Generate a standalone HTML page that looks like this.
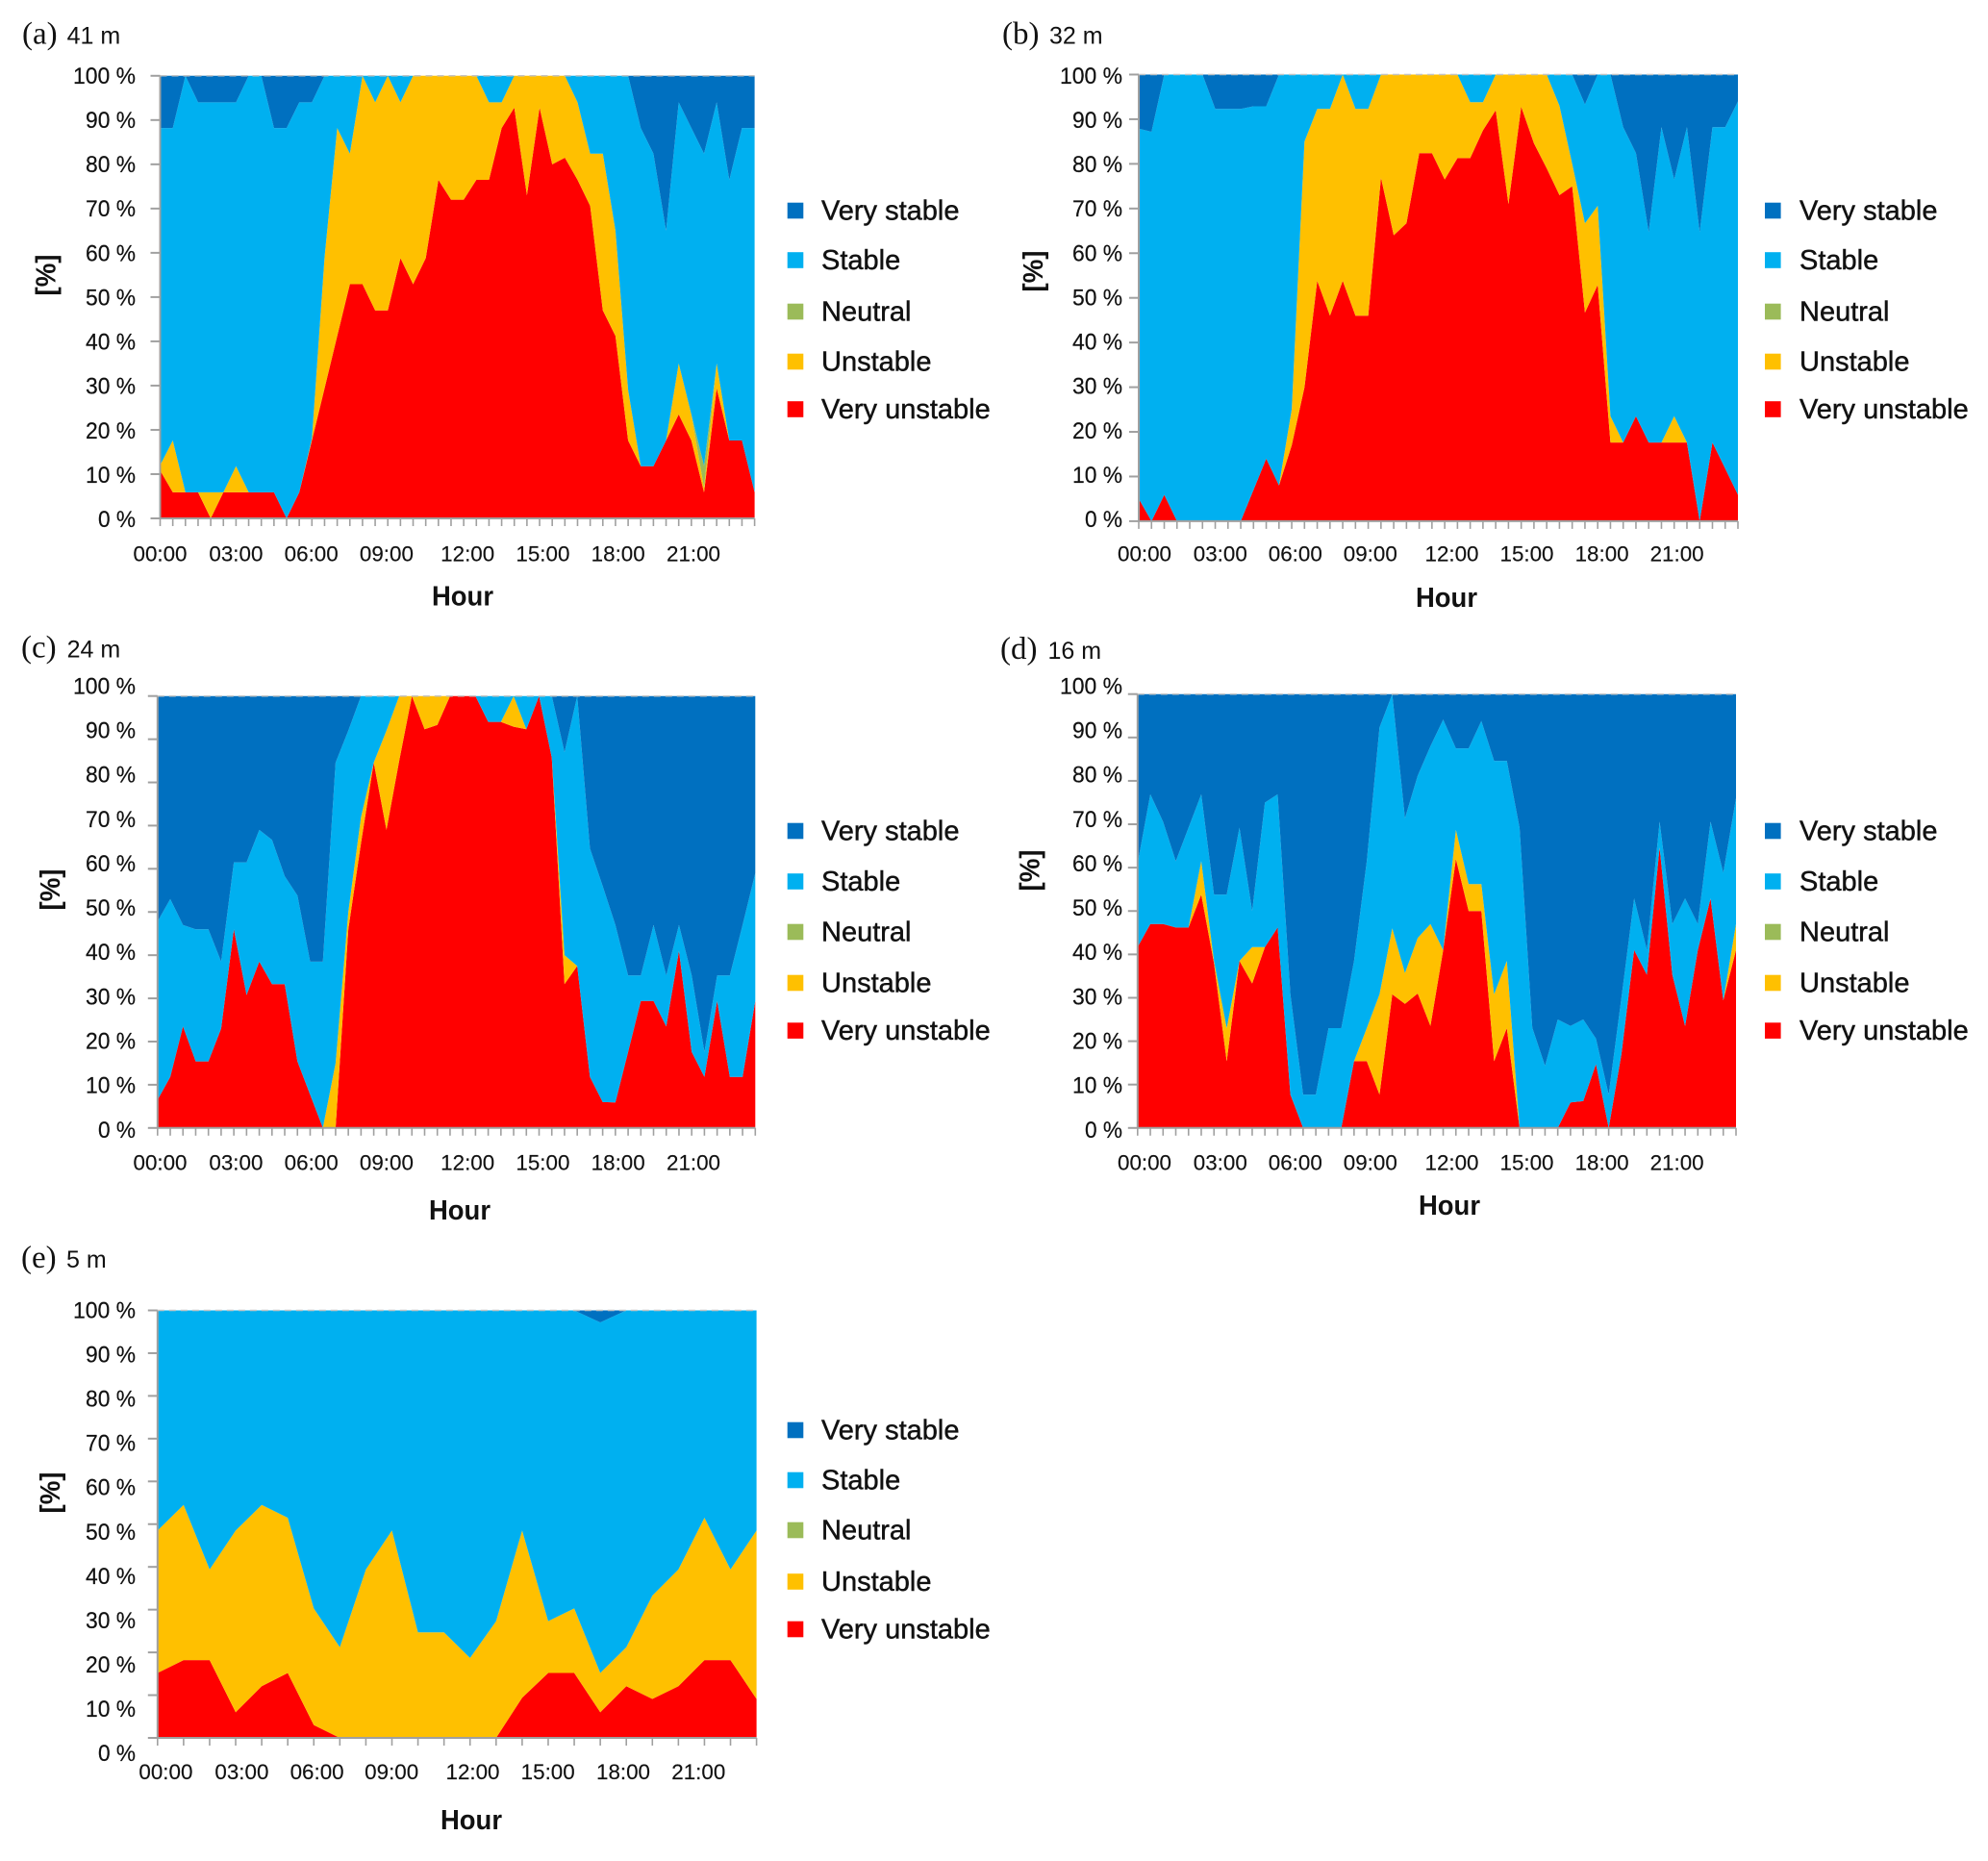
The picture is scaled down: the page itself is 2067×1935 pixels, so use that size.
<!DOCTYPE html>
<html lang="en">
<head>
<meta charset="utf-8">
<title>Atmospheric stability classes by hour at five heights</title>
<style>
html,body{margin:0;padding:0;background:#fff;}
svg{display:block;}
text{font-family:"Liberation Sans",sans-serif;fill:#111;}
.ytick{font-size:24px;text-anchor:end;stroke:#111;stroke-width:.2px;}
.xtick{font-size:22px;text-anchor:middle;stroke:#111;stroke-width:.15px;}
.axis-title{font-size:29px;font-weight:bold;text-anchor:middle;}
.legend-text{font-size:29px;stroke:#111;stroke-width:.45px;}
.panel-letter{font-family:"Liberation Serif",serif;font-size:33px;}
.panel-height{font-size:25px;}
</style>
</head>
<body>
<svg id="figure" xmlns="http://www.w3.org/2000/svg" width="2067" height="1935" viewBox="0 0 2067 1935"></svg>
<script>
/* ---------- shared labels ---------- */
const seriesNames = ['Very unstable', 'Unstable', 'Neutral', 'Stable', 'Very stable'];
const legendOrder = ['Very stable', 'Stable', 'Neutral', 'Unstable', 'Very unstable'];
const yTickLabels = ['0 %', '10 %', '20 %', '30 %', '40 %', '50 %', '60 %', '70 %', '80 %', '90 %', '100 %'];
const xTickLabels = ['00:00', '03:00', '06:00', '09:00', '12:00', '15:00', '18:00', '21:00'];

/* ---------- panel (a) 41 m: percent per half hour ---------- */
const a_veryUnstable = [10.8,5.9,5.9,5.9,0,5.9,5.9,5.9,5.9,5.9,0,5.9,17.6,29.4,41.2,52.9,52.9,47,47,58.8,52.9,58.8,76.5,72,72,76.5,76.5,88.2,92.8,73,92.8,80,81.5,76.5,70.6,47,41.2,17.6,11.8,11.8,17.6,23.5,17.6,5.9,29.4,17.6,17.6,5.9];
const a_unstable = [1.2,11.7,0,0,5.9,0,5.9,0,0,0,0,0,0.4,29.6,47,29.5,47.1,47,53,35.2,47.1,41.2,23.5,28,28,23.5,17.5,5.8,7.2,27,7.2,20,18.5,17.5,11.8,35.4,23.8,11.4,0,0,0,11.5,5.9,1,5.6,0,0,0];
const a_neutral = [0,0,0,0,0,0,0,0,0,0,0,0,0,0,0,0,0,0,0,0,0,0,0,0,0,0,0,0,0,0,0,0,0,0,0,0,0,0,0,0,0,0,0,5,0,0,0,0];
const a_stable = [76.2,70.6,94.1,88.1,88.1,88.1,82.2,94.1,94.1,82.3,88.2,88.1,76,41,11.8,17.6,0,6,0,6,0,0,0,0,0,0,6,6,0,0,0,0,0,6,17.6,17.6,35,71,76.4,70.6,47.4,59,64.7,70.5,59,58.9,70.6,82.3];
const a_veryStable = [11.8,11.8,0,6,6,6,6,0,0,11.8,11.8,6,6,0,0,0,0,0,0,0,0,0,0,0,0,0,0,0,0,0,0,0,0,0,0,0,0,0,11.8,17.6,35,6,11.8,17.6,6,23.5,11.8,11.8];

/* ---------- panel (b) 32 m ---------- */
const b_veryUnstable = [5,0,5.9,0,0,0,0,0,0,7,14,8,17,30,53.8,46,53.8,46,46,76.9,64,66.7,82.4,82.4,76.5,81.3,81.3,87.5,92,71,92.8,84.6,79,73,75,46.7,52.9,17.6,17.6,23.5,17.6,17.6,17.6,17.6,0,17.6,11.8,5.9];
const b_unstable = [0,0,0,0,0,0,0,0,0,0,0,0,8,55,38.5,46.3,46.2,46.3,46.3,23.1,36,33.3,17.6,17.6,23.5,18.7,12.5,6.3,8,29,7.2,15.4,21,20,5,20,17.7,5.9,0,0,0,0,5.9,0,0,0,0,0];
const b_neutral = [0,0,0,0,0,0,0,0,0,0,0,0,0,0,0,0,0,0,0,0,0,0,0,0,0,0,0,0,0,0,0,0,0,0,0,0,0,0,0,0,0,0,0,0,0,0,0,0];
const b_stable = [82.9,87.2,94.1,100,100,100,92.3,92.3,92.3,85.9,78.9,92,75,15,7.7,7.7,0,7.7,7.7,0,0,0,0,0,0,0,6.2,6.2,0,0,0,0,0,7,20,26.6,29.4,76.5,70.6,58.9,47.1,70.6,53,70.6,64.7,70.6,76.4,88.1];
const b_veryStable = [12.1,12.8,0,0,0,0,7.7,7.7,7.7,7.1,7.1,0,0,0,0,0,0,0,0,0,0,0,0,0,0,0,0,0,0,0,0,0,0,0,0,6.7,0,0,11.8,17.6,35.3,11.8,23.5,11.8,35.3,11.8,11.8,6];

/* ---------- panel (c) 24 m ---------- */
const c_veryUnstable = [6.5,11.8,23.5,15.4,15.4,23,46,30.8,38.5,33.3,33.3,15.4,7.7,0,0,46,66,84.6,69,85,100,92.3,93.3,100,100,100,94,94,92.9,92.3,100,85.7,33.3,37.5,11.8,6,5.9,17.6,29.4,29.4,23.5,41,17.6,11.8,29.4,11.8,11.8,29.4];
const c_unstable = [0,0,0,0,0,0,0,0,0,0,0,0,0,0,15,4,6,0,23,15,0,7.7,6.7,0,0,0,0,0,7.1,0,0,0,6.7,0,0,0,0,0,0,0,0,0,0,0,0,0,0,0];
const c_neutral = [0,0,0,0,0,0,0,0,0,0,0,0,0,0,0,0,0,0,0,0,0,0,0,0,0,0,0,0,0,0,0,0,0,0,0,0,0,0,0,0,0,0,0,0,0,0,0,0];
const c_stable = [41.3,41.2,23.5,30.6,30.6,15.5,15.5,30.7,30.5,33.4,25,38.4,30.8,38.5,69.6,42,28,15.4,8,0,0,0,0,0,0,0,6,6,0,7.7,0,14.3,47,62.5,52.9,50,41.1,17.7,5.9,17.6,11.8,6,17.7,5.8,5.9,23.5,35.2,29.6];
const c_veryStable = [52.2,47,53,54,54,61.5,38.5,38.5,31,33.3,41.7,46.2,61.5,61.5,15.4,8,0,0,0,0,0,0,0,0,0,0,0,0,0,0,0,0,13,0,35.3,44,53,64.7,64.7,53,64.7,53,64.7,82.4,64.7,64.7,53,41];

/* ---------- panel (d) 16 m ---------- */
const d_veryUnstable = [41.7,47,47,46.2,46.2,53.8,38,15.4,38.5,33.3,41.7,46.2,7.7,0,0,0,0,15.4,15.4,7.7,30.8,28.6,31,23.5,41,62,50,50,15.4,23,0,0,0,0,5.9,6.2,14.7,0,17,41,35.3,64.7,35.3,23.5,41,52.9,29.4,41];
const d_unstable = [0,0,0,0,0,7.7,0.5,7.6,0,8.4,0,0,0,0,0,0,0,0,7.6,23.1,15.2,7.1,12.8,23.5,0,6.7,6.2,6.2,15.4,15.5,0,0,0,0,0,0,0,0,0,0,0,0,0,0,0,0,0,6];
const d_neutral = [0,0,0,0,0,0,0,0,0,0,0,0,0,0,0,0,0,0,0,0,0,0,0,0,0,0,0,0,0,0,0,0,0,0,0,0,0,0,0,0,0,0,0,0,0,0,0,0];
const d_stable = [19.3,29.9,23.6,15.3,23,15.4,15.3,30.8,30.7,8.3,33.3,30.7,23.1,7.7,7.7,23,23,23.1,38.5,61.5,54,35.7,37.4,41,53.1,18.8,31.3,37.6,53.8,46.1,69.2,23.1,14.3,25,17.6,18.8,5.9,7.7,13,11.9,5.7,5.9,11.7,29.4,6,17.7,29.4,29];
const d_veryStable = [39,23.1,29.4,38.5,30.8,23.1,46.2,46.2,30.8,50,25,23.1,69.2,92.3,92.3,77,77,61.5,38.5,7.7,0,28.6,18.8,12,5.9,12.5,12.5,6.2,15.4,15.4,30.8,76.9,85.7,75,76.5,75,79.4,92.3,70,47.1,59,29.4,53,47.1,53,29.4,41.2,24];

/* ---------- panel (e) 5 m: percent per hour ---------- */
const e_veryUnstable = [15.2,18.2,18.2,6,12.1,15.2,3,0,0,0,0,0,0,0,9.4,15.2,15.2,6,12.1,9.1,12.1,18.2,18.2,9.1];
const e_unstable = [33.3,36.3,21.2,42.5,42.4,36.3,27.3,21.2,39.4,48.5,24.7,24.7,18.7,27.3,39.1,12.1,15.1,9.2,9.1,24.2,27.3,33.3,21.2,39.4];
const e_neutral = [0,0,0,0,0,0,0,0,0,0,0,0,0,0,0,0,0,0,0,0,0,0,0,0];
const e_stable = [51.5,45.5,60.6,51.5,45.5,48.5,69.7,78.8,60.6,51.5,75.3,75.3,81.3,72.7,51.5,72.7,69.7,82,78.8,66.7,60.6,48.5,60.6,51.5];
const e_veryStable = [0,0,0,0,0,0,0,0,0,0,0,0,0,0,0,0,0,2.8,0,0,0,0,0,0];

/* ---------- styling and layout (not data) ---------- */
const colors = {'Very unstable':'#FF0000','Unstable':'#FFC000','Neutral':'#9BBB59','Stable':'#00B0F0','Very stable':'#0070C0'};
const xLabelsLeft = [166.5,245.4,323.7,401.9,486.2,564.4,642.7,721];
const xLabelsRight = [1190,1268.8,1346.8,1424.8,1509.5,1587.5,1665.6,1743.6];
const xLabelsE = [172.4,251.4,329.6,407.2,491.5,569.7,648,726.3];
const legendRowsTop = [219,270.5,324,376,425.5];
const legendRowsMid = [864,916.5,969,1022,1071.6];
const legendRowsBottom = [1487,1539,1591,1644.5,1694];
const panels = [
 {id:'a',letter:'(a)',height:'41 m',series:[a_veryUnstable,a_unstable,a_neutral,a_stable,a_veryStable],
  left:166.5,right:784.6,top:78.8,bottom:539,
  yLabelRight:141,yLabelTop:78.8,yLabelBottom:540,xLabels:xLabelsLeft,xLabelY:576,
  hourX:481,hourY:620.6,pctX:48.4,pctY:286,legendSwatchX:818.7,legendTextX:854,legendRows:legendRowsTop,
  letterX:23,heightX:69.6,titleY:45.6},
 {id:'b',letter:'(b)',height:'32 m',series:[b_veryUnstable,b_unstable,b_neutral,b_stable,b_veryStable],
  left:1184,right:1807,top:77.5,bottom:541.9,
  yLabelRight:1167,yLabelTop:78.8,yLabelBottom:540,xLabels:xLabelsRight,xLabelY:576,
  hourX:1504,hourY:622,pctX:1075,pctY:282,legendSwatchX:1835,legendTextX:1871,legendRows:legendRowsTop,
  letterX:1042,heightX:1091,titleY:45.6},
 {id:'c',letter:'(c)',height:'24 m',series:[c_veryUnstable,c_unstable,c_neutral,c_stable,c_veryStable],
  left:163.8,right:785.3,top:723.7,bottom:1172.8,
  yLabelRight:141,yLabelTop:713.4,yLabelBottom:1174.8,xLabels:xLabelsLeft,xLabelY:1209,
  hourX:478,hourY:1259,pctX:53,pctY:925,legendSwatchX:818.7,legendTextX:854,legendRows:legendRowsMid,
  letterX:22,heightX:69.6,titleY:683.5},
 {id:'d',letter:'(d)',height:'16 m',series:[d_veryUnstable,d_unstable,d_neutral,d_stable,d_veryStable],
  left:1182.8,right:1805,top:721.7,bottom:1172.8,
  yLabelRight:1167,yLabelTop:713.4,yLabelBottom:1174.8,xLabels:xLabelsRight,xLabelY:1209,
  hourX:1507,hourY:1254,pctX:1071.7,pctY:905,legendSwatchX:1835,legendTextX:1871,legendRows:legendRowsMid,
  letterX:1040,heightX:1089.5,titleY:685},
 {id:'e',letter:'(e)',height:'5 m',series:[e_veryUnstable,e_unstable,e_neutral,e_stable,e_veryStable],
  left:163.8,right:786.6,top:1362.5,bottom:1807,
  yLabelRight:141,yLabelTop:1362.5,yLabelBottom:1823,xLabels:xLabelsE,xLabelY:1842.6,
  hourX:490,hourY:1893,pctX:53,pctY:1552,legendSwatchX:818.7,legendTextX:854,legendRows:legendRowsBottom,
  letterX:22,heightX:69,titleY:1318}
];

const NS = 'http://www.w3.org/2000/svg';
const root = document.getElementById('figure');
function slug(s){return s.toLowerCase().replace(/[^a-z0-9]+/g,'-').replace(/^-|-$/g,'');}
function build(parent, tag, attrs, content){
  const el = document.createElementNS(NS, tag);
  for (const k in attrs) el.setAttribute(k, attrs[k]);
  if (content !== undefined) el.textContent = content;
  parent.appendChild(el);
  return el;
}

function drawPanel(p){
  const g = build(root, 'g', {});
  
  

  const n = p.series[0].length;
  const xScale = i => p.left + i * (p.right - p.left) / (n - 1);
  const yScale = v => p.bottom - Math.min(v, 100) / 100 * (p.bottom - p.top);

  /* stacked areas, from the bottom series upward */
  const base = new Array(n).fill(0);
  p.series.forEach((values, s) => {
    const upper = [], lower = [];
    for (let i = 0; i < n; i++) {
      lower.push(xScale(i).toFixed(2) + ',' + yScale(base[i]).toFixed(2));
      base[i] += values[i];
      upper.push(xScale(i).toFixed(2) + ',' + yScale(base[i]).toFixed(2));
    }
    const area = build(g, 'polygon', {points: upper.concat(lower.reverse()).join(' '), fill: colors[seriesNames[s]]});
    
    
  });

  /* axes */
  const yAxis = build(g, 'line', {x1:p.left, x2:p.left, y1:p.top, y2:p.bottom, stroke:'#a0a0a0', 'stroke-width':2});
  
  
  const xAxis = build(g, 'line', {x1:p.left, x2:p.right, y1:p.bottom, y2:p.bottom, stroke:'#a0a0a0', 'stroke-width':2});
  
  
  const topGrid = build(g, 'line', {x1:p.left, x2:p.right, y1:p.top, y2:p.top, stroke:'#c4c4c4', 'stroke-width':1.5, 'stroke-dasharray':'7 5'});
  
  

  /* y ticks and labels */
  yTickLabels.forEach((label, t) => {
    const frac = t / (yTickLabels.length - 1);
    const ty = p.bottom - frac * (p.bottom - p.top);
    const tick = build(g, 'line', {x1:p.left - 10, x2:p.left, y1:ty, y2:ty, stroke:'#a0a0a0', 'stroke-width':2});
    
    
    const ly = p.yLabelBottom - frac * (p.yLabelBottom - p.yLabelTop);
    const txt = build(g, 'text', {x:p.yLabelRight, y:ly + 8, class:'ytick', textLength:label.length * 13, lengthAdjust:'spacingAndGlyphs'}, label);
    
    
  });

  /* x ticks and labels */
  for (let i = 0; i < n; i++) {
    const tick = build(g, 'line', {x1:xScale(i), x2:xScale(i), y1:p.bottom, y2:p.bottom + 8, stroke:'#a0a0a0', 'stroke-width':1.6});
    
    
  }
  xTickLabels.forEach((label, t) => {
    const txt = build(g, 'text', {x:p.xLabels[t], y:p.xLabelY + 7.5, class:'xtick', textLength:56, lengthAdjust:'spacingAndGlyphs'}, label);
    
    
  });

  /* axis titles */
  const hour = build(g, 'text', {x:p.hourX, y:p.hourY + 9, class:'axis-title', textLength:64, lengthAdjust:'spacingAndGlyphs'}, 'Hour');
  
  
  const pct = build(g, 'text', {x:0, y:0, class:'axis-title', textLength:43, lengthAdjust:'spacingAndGlyphs', transform:'translate(' + (p.pctX + 9) + ' ' + p.pctY + ') rotate(-90)'}, '[%]');
  
  

  /* panel title */
  const letter = build(g, 'text', {x:p.letterX, y:p.titleY, class:'panel-letter'}, p.letter);
  
  
  const hgt = build(g, 'text', {x:p.heightX, y:p.titleY, class:'panel-height'}, p.height);
  
  

  /* legend */
  const legend = build(g, 'g', {});
  
  
  legendOrder.forEach((name, r) => {
    const cy = p.legendRows[r];
    const swatch = build(legend, 'rect', {x:p.legendSwatchX, y:cy - 8.3, width:16.6, height:16.6, fill:colors[name]});
    
    
    const label = build(legend, 'text', {x:p.legendTextX, y:cy + 9.5, class:'legend-text'}, name);
    
    
  });
}
panels.forEach(drawPanel);
</script>
</body>
</html>
